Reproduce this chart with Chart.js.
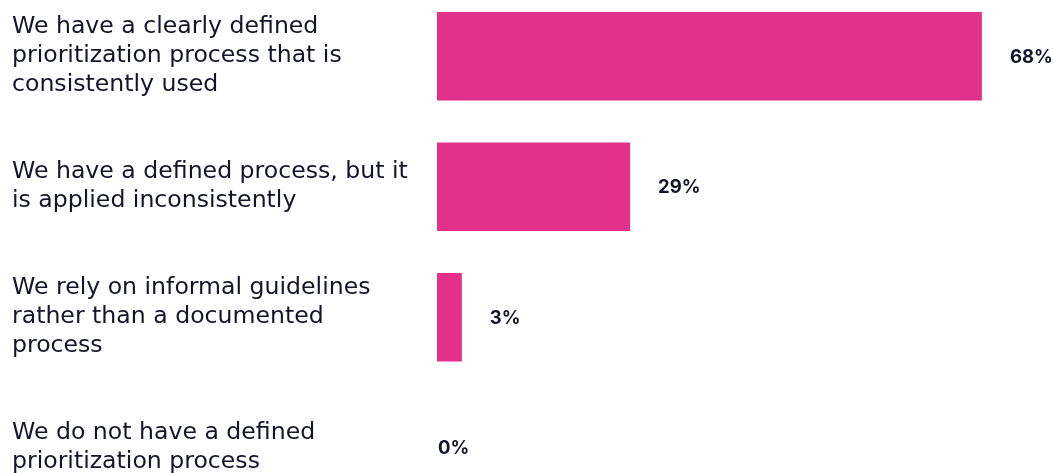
<!doctype html>
<html>
<head>
  <meta charset="utf-8">
  <title>Prioritization process</title>
  <script src="https://cdn.jsdelivr.net/npm/chart.js@4.4.1/dist/chart.umd.min.js"></script>
  <style>
    html, body { margin: 0; padding: 0; background: #fff; overflow: hidden; }
    #myChart { position: absolute; left: 0; top: -9px; }
  </style>
</head>
<body>
  <canvas id="myChart" width="1054" height="522" style="width:1054px;height:522px"></canvas>
  <script>
    // categories (line-broken like the picture)
    var categories = [
      ['We have a clearly defined', 'prioritization process that is', 'consistently used'],
      ['We have a defined process, but it', 'is applied inconsistently'],
      ['We rely on informal guidelines', 'rather than a documented', 'process'],
      ['We do not have a defined', 'prioritization process']
    ];
    // bar lengths as drawn in the picture (%)
    var barLengths = [68, 24.1, 3.1, 0];
    // value labels printed next to bars
    var valueLabels = ['68%', '29%', '3%', '0%'];

    var ink = '#14142b';
    var pink = '#e2308b';

    // draws the bold % label at the end of each bar
    var valueLabelPlugin = {
      id: 'valueLabels',
      afterDatasetsDraw: function(chart) {
        var ctx = chart.ctx;
        var meta = chart.getDatasetMeta(0);
        ctx.save();
        ctx.font = 'bold 18.5px Inter, "Noto Sans", sans-serif';
        ctx.fillStyle = ink;
        ctx.textBaseline = 'middle';
        ctx.textAlign = 'left';
        meta.data.forEach(function(bar, i) {
          var x = barLengths[i] > 0 ? bar.x + 28 : bar.base + 1;
          ctx.fillText(valueLabels[i], x, bar.y + 1);
        });
        ctx.restore();
      }
    };

    var ctx = document.getElementById('myChart').getContext('2d');
    var chart = new Chart(ctx, {
      type: 'bar',
      data: {
        labels: categories,
        datasets: [{
          data: barLengths,
          backgroundColor: pink,
          borderWidth: 0,
          barPercentage: 0.68,
          categoryPercentage: 1
        }]
      },
      options: {
        indexAxis: 'y',
        responsive: false,
        maintainAspectRatio: false,
        animation: false,
        devicePixelRatio: 1,
        layout: { padding: { left: 12, right: 0, top: 0, bottom: 0 } },
        plugins: {
          legend: { display: false },
          tooltip: { enabled: false }
        },
        scales: {
          x: {
            min: 0,
            max: 77,
            display: false
          },
          y: {
            grid: { display: false },
            border: { display: false },
            afterFit: function(scale) {
              scale.width = 425;
              scale.paddingTop = 0;
              scale.paddingBottom = 0;
            },
            ticks: {
              crossAlign: 'far',
              color: ink,
              padding: 0,
              font: { family: '"DejaVu Sans", sans-serif', size: 23.6, lineHeight: 1.23 }
            }
          }
        }
      },
      plugins: [valueLabelPlugin]
    });
  </script>
</body>
</html>
